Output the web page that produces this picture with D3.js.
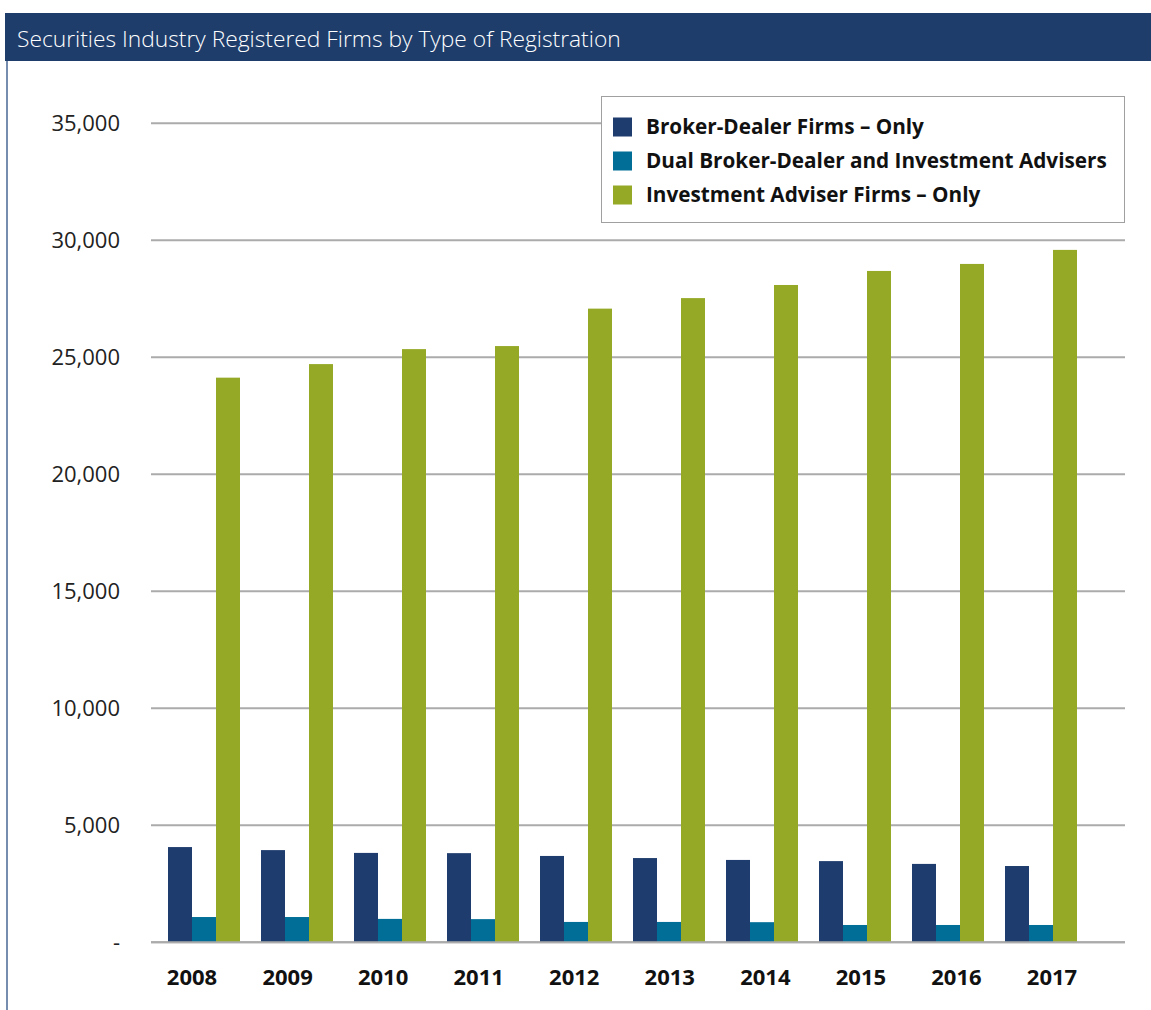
<!DOCTYPE html>
<html>
<head>
<meta charset="utf-8">
<script src="https://cdn.jsdelivr.net/npm/d3@7"></script>
<style>
  html, body { margin: 0; padding: 0; background: #fff; }
  svg { display: block; }
</style>
</head>
<body>
<svg id="chart" width="1151" height="1010"></svg>
<script>
// ---- Data ----
const title = "Securities Industry Registered Firms by Type of Registration";
const years = ["2008","2009","2010","2011","2012","2013","2014","2015","2016","2017"];
const seriesNames = [
  "Broker-Dealer Firms \u2013 Only",
  "Dual Broker-Dealer and Investment Advisers",
  "Investment Adviser Firms \u2013 Only"
];
const brokerDealerOnly = [4070, 3940, 3820, 3810, 3690, 3600, 3520, 3470, 3350, 3260];
const dualRegistered   = [1080, 1080, 1000,  990,  870,  870,  860,  740,  740,  740];
const adviserOnly      = [24130, 24710, 25350, 25480, 27080, 27530, 28090, 28690, 28990, 29590];
const yTicks = [0, 5000, 10000, 15000, 20000, 25000, 30000, 35000];
const colors = ["#1e3c6d", "#006e96", "#95a926"];

const seriesValues = [brokerDealerOnly, dualRegistered, adviserOnly];

// ---- Layout ----
const svg = d3.select("#chart");
const W = 1151, H = 1010;
const font = "'Open Sans', 'Noto Sans', 'DejaVu Sans', sans-serif";

// Title bar
svg.append("rect").attr("x", 5).attr("y", 13).attr("width", W - 5).attr("height", 48)
  .attr("fill", "#1e3d6b");
const titleText = svg.append("text").attr("x", 17).attr("y", 46.5)
  .attr("fill", "#ffffff").attr("font-family", font).attr("font-weight", 300)
  .attr("font-size", 23).text(title);
(function fit(t, target) {
  const w = t.node().getComputedTextLength();
  const fs = +t.attr("font-size");
  t.attr("font-size", fs * target / w);
})(titleText, 604);

// Left border line
svg.append("line").attr("x1", 7).attr("x2", 7).attr("y1", 61).attr("y2", H)
  .attr("stroke", "#4a6794").attr("stroke-width", 1.5);

// Scales
const y = d3.scaleLinear().domain([0, 30000]).range([942.3, 240.3]);
const x0 = d3.scaleBand().domain(years).range([157.5, 1087.5]).paddingInner(0).paddingOuter(0);
const x1 = d3.scaleBand().domain([0, 1, 2]).range([x0.bandwidth() / 2 - 36, x0.bandwidth() / 2 + 36]);
const xLabel = d3.scalePoint().domain(years).range([192, 1052]);

// Gridlines
svg.append("g").selectAll("line").data(yTicks).join("line")
  .attr("x1", 151).attr("x2", 1125)
  .attr("y1", d => y(d)).attr("y2", d => y(d))
  .attr("stroke", "#ababab").attr("stroke-width", 2);

// Y tick labels
svg.append("g").selectAll("text").data(yTicks).join("text")
  .attr("x", 120).attr("y", d => y(d)).attr("dy", "0.36em")
  .attr("text-anchor", "end").attr("font-family", font).attr("font-size", 22)
  .attr("fill", "#222").text(d => d === 0 ? "-" : d3.format(",")(d));

// Bars
const groups = svg.append("g").selectAll("g").data(years).join("g")
  .attr("transform", d => `translate(${x0(d)},0)`);
groups.selectAll("rect")
  .data((d, i) => seriesValues.map((s, k) => ({ k, v: s[i] })))
  .join("rect")
  .attr("x", d => x1(d.k))
  .attr("width", x1.bandwidth())
  .attr("y", d => y(d.v))
  .attr("height", d => y(0) - y(d.v))
  .attr("fill", d => colors[d.k]);

// baseline on top
svg.append("line").attr("x1", 151).attr("x2", 1125).attr("y1", y(0)).attr("y2", y(0))
  .attr("stroke", "#ababab").attr("stroke-width", 2);

// X labels
svg.append("g").selectAll("text").data(years).join("text")
  .attr("x", d => xLabel(d)).attr("y", 985)
  .attr("text-anchor", "middle").attr("font-family", font).attr("font-weight", 700)
  .attr("font-size", 22).attr("fill", "#111").text(d => d);

// Legend
const lg = svg.append("g");
lg.append("rect").attr("x", 601.5).attr("y", 96.5).attr("width", 523).attr("height", 126)
  .attr("fill", "#fff").attr("stroke", "#a0a0a0").attr("stroke-width", 1);
const rows = lg.selectAll("g").data(seriesNames).join("g")
  .attr("transform", (d, i) => `translate(613, ${127 + i * 34})`);
rows.append("rect").attr("x", 0).attr("y", -9.5).attr("width", 19).attr("height", 19)
  .attr("fill", (d, i) => colors[i]);
const lt = rows.append("text").attr("x", 33).attr("y", 0).attr("dy", "0.36em")
  .attr("font-family", font).attr("font-weight", 700).attr("font-size", 20)
  .attr("fill", "#111").text(d => d);
const longest = lt.filter((d, i) => i === 1).node().getComputedTextLength();
lt.attr("font-size", 20 * 461 / longest);
</script>
</body>
</html>
